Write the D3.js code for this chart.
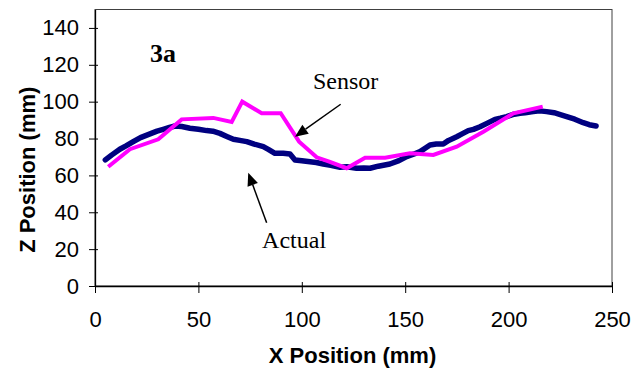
<!DOCTYPE html>
<html><head><meta charset="utf-8">
<script src="https://cdn.jsdelivr.net/npm/d3@7"></script>
<style>body{margin:0;background:#fff}svg{display:block}</style>
</head><body>
<svg id="c" width="631" height="371"></svg>
<script>
const xTicks = [0, 50, 100, 150, 200, 250];
const yTicks = [0, 20, 40, 60, 80, 100, 120, 140];
const actualX = [5,8,12,15,18.5,22,26.6,30,33,36,38.7,42,45.9,50,54,57,60.4,64,66.9,70,73.4,77,81.4,84,87,91,94.3,96.7,100,104,107,110.4,114,118.5,121.7,126.5,130,133,137,142.6,147,150.7,154,157.2,160,162,165,168.4,171,174.9,177.5,180.5,183,186.2,190,193.4,196,199.1,202,205.5,208,211.9,215,218.4,222,225,228.1,232,236.1,239,242.3];
const actualZ = [68.4,71,74.2,76,78.3,80.5,82.5,84,85,86,86.8,86.5,85.6,85,84.3,84,82.8,81,79.6,79,78.3,77,75.6,74,72,72,71.6,68.4,68,67.4,67,66.2,65.5,64.4,64.7,63.9,64,63.9,65,66.2,68,70.2,71.5,72.9,75,76.5,77,77,79,81,82.5,84.3,85,86.4,88.5,90.4,91,91.9,93,93.7,94,94.6,95,94.6,94,93,91.9,90.5,88.6,87.5,86.8];
const sensorX = [6.4,16.9,30.6,41.9,57.2,66.1,71.2,80.6,89.8,98.7,107.2,113.6,121.7,130.6,140.3,152.3,163.6,174.9,187.8,202.3,216.5];
const sensorZ = [64.7,74.2,79.6,90.4,91.2,89,100,93.7,93.7,78.3,69.8,67.4,63.9,69.6,69.6,72,71.1,75.6,83.7,93.7,97.3];
const labels = [
  {text: "3a", x: 26.6, y: 121.5, bold: true},
  {text: "Sensor", x: 105.4, y: 106.9, bold: false},
  {text: "Actual", x: 80.8, y: 20.6, bold: false}
];
const arrows = [
  {x1: 118.8, y1: 98.6, x2: 96.7, y2: 81.0},
  {x1: 83.0, y1: 34.3, x2: 74.1, y2: 61.5}
];

const svg = d3.select("#c");
const L = 95, R = 612, T = 9.5, B = 286;
const x = d3.scaleLinear().domain([0, 250]).range([L, R]);
const y = d3.scaleLinear().domain([0, 150]).range([B, T]);

svg.append("rect").attr("x", L).attr("y", T).attr("width", R - L).attr("height", B - T)
  .attr("fill", "none").attr("stroke", "#404040").attr("stroke-width", 1);

const font = "'Liberation Sans', Arial, sans-serif";
const gx = svg.append("g").attr("transform", `translate(0,${B})`)
  .call(d3.axisBottom(x).tickValues(xTicks).tickSize(7).tickSizeOuter(0).tickPadding(18));
const gy = svg.append("g").attr("transform", `translate(${L},0)`)
  .call(d3.axisLeft(y).tickValues(yTicks).tickSize(6).tickSizeOuter(0).tickPadding(10));
gx.selectAll(".tick line").attr("y1", -4);
gy.selectAll(".tick line").attr("x1", 3);
[gx, gy].forEach(g => {
  g.select(".domain").attr("stroke", "#000").attr("stroke-width", 1.3);
  g.selectAll(".tick line").attr("stroke", "#000");
  g.selectAll("text").attr("font-family", font).attr("font-size", 22).attr("fill", "#000");
});

svg.append("text").attr("x", (L + R) / 2 - 1).attr("y", 363).attr("text-anchor", "middle")
  .attr("font-family", font).attr("font-weight", "bold").attr("font-size", 22).text("X Position (mm)");
svg.append("text").attr("transform", `translate(27,${(T + B) / 2 + 22}) rotate(-90)`).attr("text-anchor", "middle")
  .attr("dy", "0.35em").attr("font-family", font).attr("font-weight", "bold").attr("font-size", 22).text("Z Position (mm)");

const line = d3.line().x(d => x(d[0])).y(d => y(d[1]));
const actual = actualX.map((v, i) => [v, actualZ[i]]);
const sensor = sensorX.map((v, i) => [v, sensorZ[i]]);
svg.append("path").datum(actual).attr("d", line).attr("fill", "none")
  .attr("stroke", "#000080").attr("stroke-width", 5.5).attr("stroke-linejoin", "round").attr("stroke-linecap", "round");
svg.append("path").datum(sensor).attr("d", line).attr("fill", "none")
  .attr("stroke", "#FF00FF").attr("stroke-width", 4).attr("stroke-linejoin", "miter").attr("stroke-linecap", "butt");

labels.forEach(l => {
  svg.append("text").attr("x", x(l.x)).attr("y", y(l.y))
    .attr("font-family", "'Liberation Serif', 'Times New Roman', serif")
    .attr("font-size", l.bold ? 26 : 24).attr("font-weight", l.bold ? "bold" : "normal").text(l.text);
});
arrows.forEach(a => {
  const x1 = x(a.x1), y1 = y(a.y1), x2 = x(a.x2), y2 = y(a.y2);
  const ang = Math.atan2(y2 - y1, x2 - x1);
  const len = 13, hw = 5.5;
  const bx = x2 - len * Math.cos(ang), by = y2 - len * Math.sin(ang);
  svg.append("line").attr("x1", x1).attr("y1", y1).attr("x2", bx).attr("y2", by)
    .attr("stroke", "#000").attr("stroke-width", 1.5);
  const px = -Math.sin(ang) * hw, py = Math.cos(ang) * hw;
  svg.append("path").attr("d", `M${x2},${y2}L${bx + px},${by + py}L${bx - px},${by - py}Z`).attr("fill", "#000");
});
</script>
</body></html>
